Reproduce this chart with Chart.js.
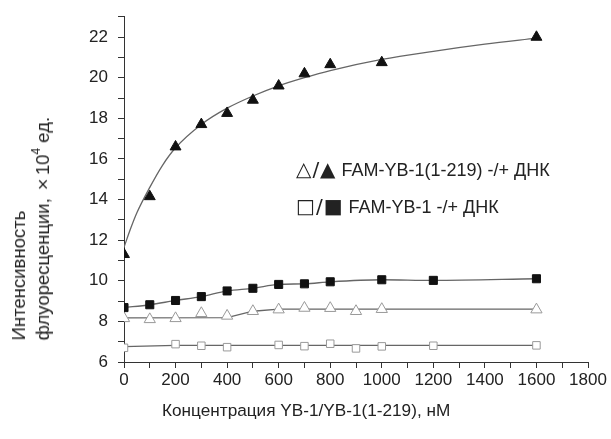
<!DOCTYPE html>
<html>
<head>
<meta charset="utf-8">
<script src="https://cdn.jsdelivr.net/npm/chart.js@4"></script>
<style>
  body { margin: 0; background: #fff; }
  #wrap { position: relative; width: 611px; height: 439px; font-family: "Liberation Sans", Arial, sans-serif; color: #222; }
  #chart { position: absolute; left: 0; top: 0; }
  .ytitle { position: absolute; left: 7px; bottom: 99px; font-size: 18.5px; line-height: 24px;
            writing-mode: vertical-rl; transform: rotate(180deg); white-space: nowrap; text-align: left; }
  .ytitle sup { font-size: 12px; line-height: 0; }
  .times { font-family: "DejaVu Sans", sans-serif; font-size: 15px; margin-right: 1px; }
  .xtitle { position: absolute; left: 162px; top: 400px; font-size: 17.2px; white-space: nowrap; }
  .leg { position: absolute; left: 296px; font-size: 18px; white-space: nowrap; line-height: 22px; }
  .sym { font-family: "DejaVu Sans", sans-serif; font-size: 20px; letter-spacing: 1px; margin-right: 5px; }
</style>
</head>
<body>
<div id="wrap">
  <canvas id="chart" width="611" height="439"></canvas>
  <div class="ytitle">Интенсивность<br>флуоресценции, <span class="times">×</span>10<sup>4</sup> ед.</div>
  <div class="xtitle">Концентрация YB-1/YB-1(1-219), нМ</div>
  <div class="leg" style="top:158px"><span class="sym">△/▲</span>FAM-YB-1(1-219) -/+ ДНК</div>
  <div class="leg" style="top:195px"><span class="sym">□/■</span>FAM-YB-1 -/+ ДНК</div>
</div>
<script>
// YB-1(1-219) + DNA (filled triangles) and its fitted curve
const xTriDna = [0, 100, 200, 300, 400, 500, 600, 700, 800, 1000, 1600];
const yTriDna = [11.3, 14.15, 16.6, 17.7, 18.25, 18.9, 19.6, 20.2, 20.65, 20.75, 22.0];
const xTriDnaFit = [0, 25, 50, 100, 150, 200, 300, 400, 500, 600, 700, 800, 1000, 1200, 1400, 1600];
const yTriDnaFit = [11.65, 12.55, 13.35, 14.6, 15.7, 16.55, 17.7, 18.5, 19.1, 19.6, 20.0, 20.35, 20.9, 21.3, 21.65, 21.95];

// YB-1 + DNA (filled squares)
const xSqDna = [0, 100, 200, 300, 400, 500, 600, 700, 800, 1000, 1200, 1600];
const ySqDna = [8.68, 8.82, 9.03, 9.22, 9.5, 9.63, 9.82, 9.85, 9.95, 10.05, 10.02, 10.1];

// YB-1(1-219) without DNA (open triangles)
const xTri = [0, 100, 200, 300, 400, 500, 600, 700, 800, 900, 1000, 1600];
const yTri = [8.15, 8.1, 8.15, 8.4, 8.27, 8.5, 8.58, 8.66, 8.65, 8.5, 8.6, 8.58];
const xTriFit = [0, 400, 500, 600, 1600];
const yTriFit = [8.17, 8.19, 8.5, 8.6, 8.6];

// YB-1 without DNA (open squares)
const xSq = [0, 200, 300, 400, 600, 700, 800, 900, 1000, 1200, 1600];
const ySq = [6.7, 6.88, 6.8, 6.73, 6.84, 6.78, 6.9, 6.67, 6.77, 6.8, 6.82];
const xSqFit = [0, 200, 1600];
const ySqFit = [6.76, 6.82, 6.82];

const yTickLabels = [6, 8, 10, 12, 14, 16, 18, 20, 22];
const xTickLabels = [0, 200, 400, 600, 800, 1000, 1200, 1400, 1600, 1800];

const pts = (xs, ys) => xs.map((x, i) => ({ x: x, y: ys[i] }));

const lineCol = '#666';
const axisCol = '#333';
const fam = '"Liberation Sans", Arial, sans-serif';

new Chart(document.getElementById('chart').getContext('2d'), {
    type: 'line',
    data: {
        datasets: [
            { data: pts(xTriDna, yTriDna), showLine: false, pointStyle: 'triangle', pointRadius: 6.3,
              backgroundColor: '#111', borderColor: '#111', borderWidth: 1 },
            { data: pts(xSqDna, ySqDna), showLine: false, pointStyle: 'rect', pointRadius: 5.7,
              backgroundColor: '#111', borderColor: '#111', borderWidth: 1 },
            { data: pts(xTri, yTri), showLine: false, pointStyle: 'triangle', pointRadius: 6.5,
              backgroundColor: '#fff', borderColor: '#999', borderWidth: 1 },
            { data: pts(xSq, ySq), showLine: false, pointStyle: 'rect', pointRadius: 5.3,
              backgroundColor: '#fff', borderColor: '#999', borderWidth: 1 },
            { data: pts(xTriDnaFit, yTriDnaFit), pointRadius: 0, borderColor: lineCol, borderWidth: 1.3,
              cubicInterpolationMode: 'monotone' },
            { data: pts(xSqDna, ySqDna), pointRadius: 0, borderColor: lineCol, borderWidth: 1.3,
              cubicInterpolationMode: 'monotone' },
            { data: pts(xTriFit, yTriFit), pointRadius: 0, borderColor: lineCol, borderWidth: 1.3, tension: 0 },
            { data: pts(xSqFit, ySqFit), pointRadius: 0, borderColor: lineCol, borderWidth: 1.3, tension: 0 }
        ]
    },
    options: {
        responsive: false,
        animation: false,
        layout: { padding: { top: 15, right: 23 } },
        plugins: { legend: { display: false }, tooltip: { enabled: false } },
        scales: {
            x: {
                type: 'linear',
                min: 0, max: 1800,
                afterFit: s => { s.height = 77; },
                border: { color: axisCol, width: 1 },
                grid: { drawOnChartArea: false, tickLength: 6, color: axisCol },
                ticks: {
                    stepSize: 100, autoSkip: false, maxRotation: 0, padding: 2, color: '#222',
                    font: { family: fam, size: 17 },
                    callback: v => xTickLabels.includes(v) ? v : ''
                }
            },
            y: {
                min: 6, max: 23,
                afterFit: s => { s.width = 124; },
                border: { color: axisCol, width: 1 },
                grid: { drawOnChartArea: false, tickLength: 6, color: axisCol },
                ticks: {
                    stepSize: 1, autoSkip: false, padding: 10, color: '#222',
                    font: { family: fam, size: 17, lineHeight: 0.8 },
                    callback: v => yTickLabels.includes(v) ? v : ''
                }
            }
        }
    }
});
</script>
</body>
</html>
